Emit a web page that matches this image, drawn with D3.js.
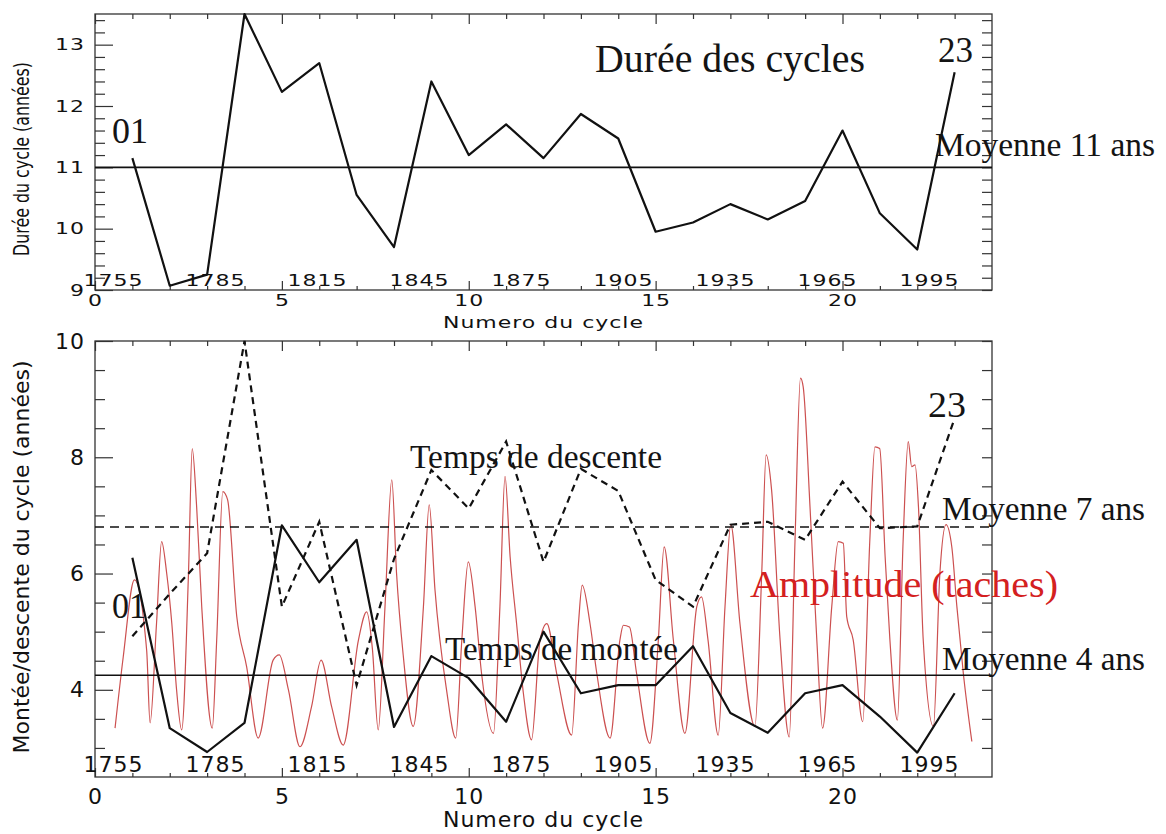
<!DOCTYPE html>
<html>
<head>
<meta charset="utf-8">
<script src="https://cdnjs.cloudflare.com/ajax/libs/d3/7.8.5/d3.min.js"></script>
<style>
  html, body { margin: 0; padding: 0; background: #fff; }
  svg { display: block; background: #fff; }
  .tick text { font-family: 'DejaVu Sans', sans-serif; font-size: 22px; fill: #111; letter-spacing: 1px; }
  .tick line { stroke: #333; stroke-width: 1.2; }
</style>
</head>
<body>
<svg id="chart" width="1166" height="834"></svg>
<script>
// cycle numbers 1..23
const cycles = [1, 2, 3, 4, 5, 6, 7, 8, 9, 10, 11, 12, 13, 14, 15, 16, 17, 18, 19, 20, 21, 22, 23];

// durée des cycles (années)
const cycleLength = [11.15, 9.07, 9.25, 13.5, 12.23, 12.7, 10.55, 9.7, 12.4, 11.2, 11.7, 11.15,
  11.87, 11.47, 9.95, 10.1, 10.4, 10.15, 10.45, 11.6, 10.25, 9.66, 12.55];

// temps de montée / descente (années)
const riseTime = [6.27, 3.34, 2.93, 3.43, 6.83, 5.85, 6.58, 3.36, 4.58, 4.2, 3.45, 5.0,
  3.94, 4.08, 4.08, 4.75, 3.6, 3.26, 3.94, 4.08, 3.54, 2.92, 3.94];
const declineTime = [4.92, 5.65, 6.35, 10.0, 5.43, 6.89, 4.08, 6.25, 7.78, 7.12, 8.27, 6.2,
  7.8, 7.42, 5.89, 5.43, 6.84, 6.89, 6.58, 7.58, 6.78, 6.81, 8.67];

const meanLength = 11;
const meanRise = 4.25;
const meanDecline = 6.8;

// amplitude (taches), in the units of the lower axis
const ampYears = [1755.6, 1758.0, 1761.3, 1764.9, 1765.9, 1767.8, 1769.3, 1770.8, 1772.3, 1773.7,
  1775.2, 1777.2, 1778.3, 1779.6, 1781.1, 1784.2, 1785.5, 1787.3, 1788.7, 1791.4,
  1794.3, 1797.7, 1802.1, 1803.9, 1806.6, 1810.0, 1813.4, 1816.2, 1819.3, 1822.7,
  1827.2, 1829.6, 1831.3, 1833.0, 1835.0, 1837.0, 1838.4, 1840.4, 1843.3, 1846.3,
  1848.0, 1849.7, 1853.1, 1855.8, 1857.6, 1859.5, 1861.5, 1863.4, 1866.9, 1868.8,
  1870.3, 1871.8, 1873.7, 1875.7, 1878.1, 1880.6, 1882.6, 1885.5, 1889.9, 1891.9,
  1893.0, 1895.3, 1897.3, 1901.2, 1904.1, 1905.1, 1906.9, 1909.0, 1912.9, 1915.4,
  1917.1, 1919.8, 1923.2, 1926.7, 1928.1, 1930.0, 1933.0, 1935.0, 1936.7, 1939.4,
  1943.8, 1945.8, 1947.1, 1948.7, 1951.2, 1953.9, 1955.6, 1957.2, 1958.0, 1960.0,
  1962.0, 1963.7, 1966.4, 1968.3, 1969.8, 1970.8, 1972.7, 1975.5, 1977.6, 1979.1,
  1980.5, 1982.1, 1983.5, 1985.7, 1987.4, 1988.9, 1989.9, 1990.9, 1991.9, 1993.3,
  1996.3, 1998.2, 2000.0, 2001.7, 2003.2, 2005.1, 2007.6];
const ampValues = [3.34, 4.56, 5.89, 4.68, 3.43, 5.14, 6.55, 6.0, 5.14, 4.0,
  3.31, 6.0, 8.15, 7.15, 5.43, 3.34, 4.86, 7.41, 7.27, 5.26,
  4.4, 3.17, 4.51, 4.6, 4.0, 3.02, 3.71, 4.51, 3.71, 3.05,
  4.86, 5.34, 4.7, 3.31, 5.43, 7.61, 6.0, 4.57, 3.37, 5.43,
  7.18, 5.72, 4.0, 3.17, 4.86, 6.2, 5.43, 4.28, 3.25, 5.43,
  7.67, 6.29, 5.14, 3.94, 3.14, 4.86, 5.14, 4.28, 3.22, 5.14,
  5.8, 5.14, 4.28, 3.17, 4.86, 5.11, 5.08, 4.28, 3.08, 4.86,
  6.46, 4.86, 3.25, 5.43, 5.6, 4.86, 3.22, 5.43, 6.84, 5.14,
  3.37, 6.0, 8.04, 7.44, 4.86, 3.19, 6.58, 9.36, 9.21, 7.15,
  4.86, 3.34, 5.43, 6.55, 6.52, 5.26, 4.86, 3.45, 6.58, 8.18,
  8.15, 6.29, 4.86, 3.48, 6.58, 8.27, 7.84, 7.87, 7.15, 4.86,
  3.37, 6.0, 6.84, 6.46, 5.43, 4.28, 3.11];

// tick labels
const cycleTicks = [0, 5, 10, 15, 20];
const yearTicks = [1755, 1785, 1815, 1845, 1875, 1905, 1935, 1965, 1995];
const lengthTicks = [9, 10, 11, 12, 13];
const riseTicks = [4, 6, 8, 10];

const svg = d3.select('#chart');
const serif = "'Liberation Serif', 'Times New Roman', serif";
const sans = "'DejaVu Sans', sans-serif";
const intFormat = d3.format('d');

const x = d3.scaleLinear().domain([0, 24]).range([95, 992]);
const yearX = d3.scaleLinear().domain([1755, 1995]).range([113, 929]);
const yLen = d3.scaleLinear().domain([9, 13.5]).range([290, 14]);
const yRise = d3.scaleLinear().domain([2.5, 10]).range([777, 341]);

const minorCycles = d3.range(1, 24).filter(c => c % 5 !== 0);

function addAxis(g, axis, transform)
{
  let a = g.append('g').attr('transform', transform).call(axis);
  a.select('.domain').remove();
  return a;
}

// frame, ticks and tick labels of one panel; sq squashes the text vertically
function buildAxes(g, y, majorY, minorY, sq, yearDy, cyclePad)
{
  const [bottom, top] = y.range();
  const [left, right] = x.range();

  g.append('rect')
    .attr('x', left).attr('y', top)
    .attr('width', right - left).attr('height', bottom - top)
    .attr('fill', 'none')
    .attr('stroke', '#333')
    .attr('stroke-width', 1.3)
  ;

  let bx = addAxis(g, d3.axisBottom(x).tickValues(cycleTicks).tickFormat(intFormat).tickSizeInner(-9).tickSizeOuter(0).tickPadding(cyclePad), `translate(0,${bottom})`);
  addAxis(g, d3.axisBottom(x).tickValues(minorCycles).tickSizeInner(-4).tickSizeOuter(0).tickFormat(''), `translate(0,${bottom})`);
  addAxis(g, d3.axisTop(x).tickValues(cycleTicks).tickSizeInner(-10).tickSizeOuter(0).tickFormat(''), `translate(0,${top})`);
  addAxis(g, d3.axisTop(x).tickValues(minorCycles).tickSizeInner(-5).tickSizeOuter(0).tickFormat(''), `translate(0,${top})`);

  let ly = addAxis(g, d3.axisLeft(y).tickValues(majorY).tickFormat(intFormat).tickSizeInner(-18).tickSizeOuter(0).tickPadding(10), `translate(${left},0)`);
  addAxis(g, d3.axisLeft(y).tickValues(minorY).tickSizeInner(-10).tickSizeOuter(0).tickFormat(''), `translate(${left},0)`);
  addAxis(g, d3.axisRight(y).tickValues(minorY.concat(majorY)).tickSizeInner(-10).tickSizeOuter(0).tickFormat(''), `translate(${right},0)`);

  let yr = addAxis(g, d3.axisBottom(yearX).tickValues(yearTicks).tickSize(0).tickFormat(intFormat), `translate(0,${bottom})`);
  yr.selectAll('text').attr('y', yearDy / sq).attr('dy', 0);

  [bx, ly, yr].forEach(a => a.selectAll('text').attr('transform', `scale(1,${sq})`));
}

function title(g, text, tx, ty, sq, rotate)
{
  g.append('text')
    .attr('transform', `translate(${tx},${ty}) scale(1,${sq})` + (rotate ? ' rotate(-90)' : ''))
    .attr('text-anchor', 'middle')
    .attr('font-family', sans)
    .attr('font-size', 22)
    .attr('letter-spacing', rotate ? 0 : 1)
    .attr('fill', '#111')
    .text(text)
  ;
}

function note(g, text, tx, ty, size, len, color)
{
  g.append('text')
    .attr('x', tx).attr('y', ty)
    .attr('font-family', serif)
    .attr('font-size', size)
    .attr('textLength', len)
    .attr('lengthAdjust', 'spacingAndGlyphs')
    .attr('fill', color || '#141414')
    .text(text)
  ;
}

function hline(g, y, v, dash)
{
  g.append('line')
    .attr('x1', x.range()[0]).attr('x2', x.range()[1])
    .attr('y1', y(v)).attr('y2', y(v))
    .attr('stroke', '#111')
    .attr('stroke-width', 1.6)
    .attr('stroke-dasharray', dash || null)
  ;
}

// ---- top panel: durée des cycles
const SQ = 0.72;
let panelTop = svg.append('g');

buildAxes(panelTop, yLen, lengthTicks, d3.range(9.2, 13.5, 0.2).filter(v => Math.abs(v - Math.round(v)) > 0.05), SQ, -4, 6);
title(panelTop, 'Durée du cycle (années)', 29, 159, SQ, true);
title(panelTop, 'Numero du cycle', 543.5, 328, SQ, false);

hline(panelTop, yLen, meanLength);

panelTop.append('path')
  .datum(cycleLength)
  .attr('d', d3.line().x((d, i) => x(cycles[i])).y(d => yLen(d)))
  .attr('fill', 'none')
  .attr('stroke', '#111')
  .attr('stroke-width', 2.2)
  .attr('stroke-linejoin', 'round')
;

note(panelTop, 'Durée des cycles', 595, 72, 40, 270);
note(panelTop, '01', 112, 143, 35, 36);
note(panelTop, '23', 938, 62, 35, 35);
note(panelTop, 'Moyenne 11 ans', 935, 156, 33, 220);

// ---- bottom panel: temps de montée / descente
let panelBot = svg.append('g');

panelBot.append('path')
  .datum(ampValues)
  .attr('d', d3.line().curve(d3.curveMonotoneX).x((d, i) => yearX(ampYears[i])).y(d => yRise(d)))
  .attr('fill', 'none')
  .attr('stroke', '#cc5050')
  .attr('stroke-width', 1.2)
;

buildAxes(panelBot, yRise, riseTicks, d3.range(3, 10, 0.5).filter(v => !riseTicks.includes(v)), 1, -5, 11);
title(panelBot, 'Montée/descente du cycle (années)', 29, 557, 1, true);
title(panelBot, 'Numero du cycle', 543.5, 827, 1, false);

hline(panelBot, yRise, meanDecline, '9,6');
hline(panelBot, yRise, meanRise);

panelBot.append('path')
  .datum(declineTime)
  .attr('d', d3.line().x((d, i) => x(cycles[i])).y(d => yRise(d)))
  .attr('fill', 'none')
  .attr('stroke', '#111')
  .attr('stroke-width', 2.2)
  .attr('stroke-dasharray', '7,5')
;

panelBot.append('path')
  .datum(riseTime)
  .attr('d', d3.line().x((d, i) => x(cycles[i])).y(d => yRise(d)))
  .attr('fill', 'none')
  .attr('stroke', '#111')
  .attr('stroke-width', 2.2)
  .attr('stroke-linejoin', 'round')
;

note(panelBot, 'Temps de descente', 410, 468, 34, 252);
note(panelBot, 'Temps de montée', 445, 660, 34, 233);
note(panelBot, 'Moyenne 7 ans', 942, 520, 33, 203);
note(panelBot, 'Moyenne 4 ans', 942, 670, 33, 203);
note(panelBot, 'Amplitude (taches)', 750, 597, 38, 308, '#d42020');
note(panelBot, '01', 112, 618, 35, 34);
note(panelBot, '23', 928, 417, 36, 38);
</script>
</body>
</html>
